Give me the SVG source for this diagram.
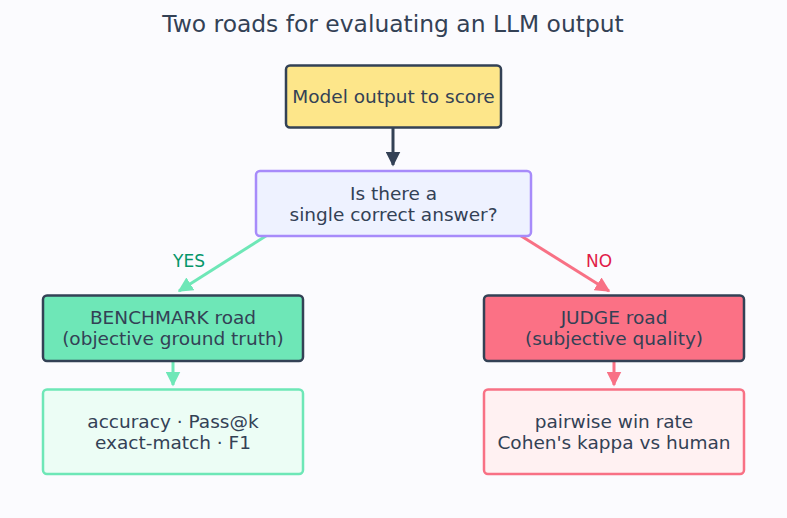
<svg xmlns="http://www.w3.org/2000/svg" width="787" height="518" viewBox="0 0 787 518">
<style>
text{font-family:"DejaVu Sans",sans-serif;fill:#334155;text-anchor:middle}
.t{font-size:18.5px}
.box{stroke-width:2.5}
.c{fill:none;stroke-width:3}
</style>
<defs>
<marker id="ad" viewBox="0 0 10 10" refX="9" refY="5" markerWidth="5" markerHeight="5" markerUnits="strokeWidth" orient="auto"><path d="M0,0L10,5L0,10z" fill="#334155"/></marker>
<marker id="ag" viewBox="0 0 10 10" refX="9" refY="5" markerWidth="5" markerHeight="5" markerUnits="strokeWidth" orient="auto"><path d="M0,0L10,5L0,10z" fill="#6ee7b7"/></marker>
<marker id="ar" viewBox="0 0 10 10" refX="9" refY="5" markerWidth="5" markerHeight="5" markerUnits="strokeWidth" orient="auto"><path d="M0,0L10,5L0,10z" fill="#f87185"/></marker>
</defs>
<rect width="787" height="518" fill="#fbfbfe"/>
<text x="393" y="32" style="font-size:23.4px">Two roads for evaluating an LLM output</text>
<g id="connectors">
<line class="c" x1="393" y1="128" x2="393" y2="165" stroke="#334155" marker-end="url(#ad)"/>
<line class="c" x1="269" y1="234" x2="179" y2="291" stroke="#6ee7b7" marker-end="url(#ag)"/>
<line class="c" x1="518" y1="234" x2="609" y2="291" stroke="#f87185" marker-end="url(#ar)"/>
<line class="c" x1="173" y1="362" x2="173" y2="385" stroke="#6ee7b7" marker-end="url(#ag)"/>
<line class="c" x1="614" y1="362" x2="614" y2="385" stroke="#f87185" marker-end="url(#ar)"/>
<text x="189" y="267" style="font-size:17px;fill:#059669">YES</text>
<text x="599" y="267" style="font-size:17px;fill:#e11d48">NO</text>
</g>
<g id="model">
<rect class="box" x="286" y="65.5" width="215" height="62" rx="4" fill="#fde68a" stroke="#334155"/>
<text class="t" x="393.5" y="103">Model output to score</text>
</g>
<g id="question">
<rect class="box" x="256" y="171" width="275" height="65" rx="4" fill="#eef2ff" stroke="#a78bfa"/>
<text class="t" x="393.5" y="199.5">Is there a</text>
<text class="t" x="393.5" y="220.5">single correct answer?</text>
</g>
<g id="benchmark">
<rect class="box" x="43" y="295.5" width="260" height="65.5" rx="4" fill="#6ee7b7" stroke="#334155"/>
<text class="t" x="173" y="323.5">BENCHMARK road</text>
<text class="t" x="173" y="344.5">(objective ground truth)</text>
</g>
<g id="judge">
<rect class="box" x="484" y="295.5" width="260" height="65.5" rx="4" fill="#fb7185" stroke="#334155"/>
<text class="t" x="614" y="323.5">JUDGE road</text>
<text class="t" x="614" y="344.5">(subjective quality)</text>
</g>
<g id="bench-metrics">
<rect class="box" x="43" y="389.5" width="260" height="84.5" rx="4" fill="#ecfdf5" stroke="#6ee7b7"/>
<text class="t" x="173" y="427.5">accuracy · Pass@k</text>
<text class="t" x="173" y="448.5">exact-match · F1</text>
</g>
<g id="judge-metrics">
<rect class="box" x="484" y="389.5" width="260" height="84.5" rx="4" fill="#fff1f2" stroke="#f87185"/>
<text class="t" x="614" y="427.5">pairwise win rate</text>
<text class="t" x="614" y="448.5">Cohen's kappa vs human</text>
</g>
</svg>
